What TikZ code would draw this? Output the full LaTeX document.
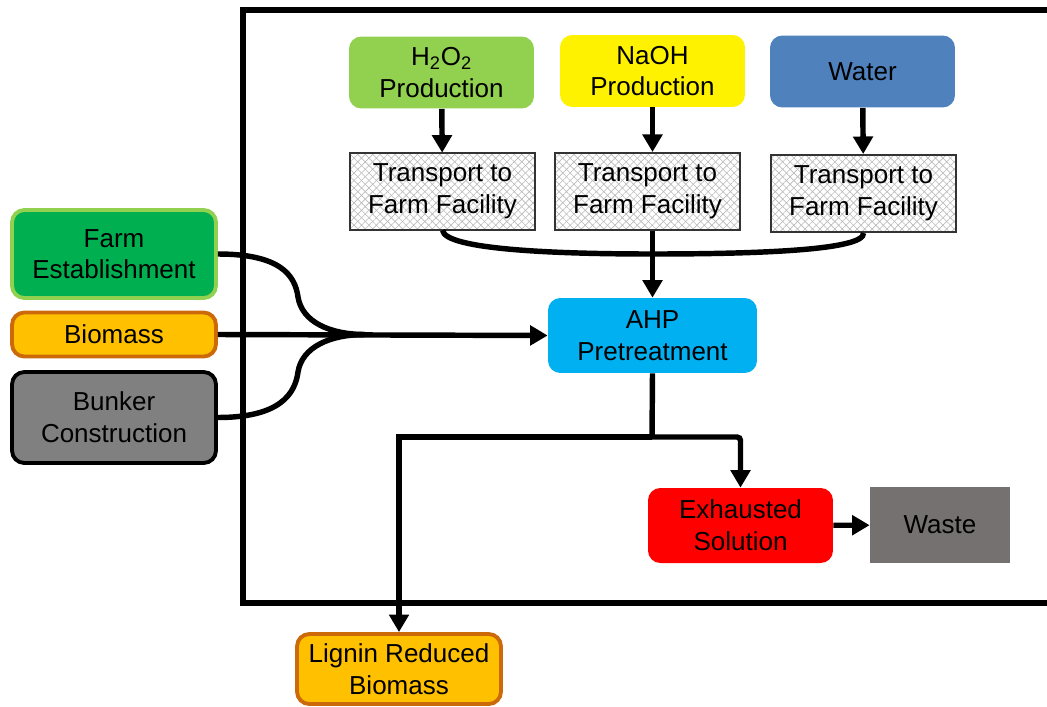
\documentclass[tikz,border=0pt]{standalone}
\usepackage{fontspec}
\setmainfont{Liberation Sans}
\usetikzlibrary{arrows.meta,patterns.meta}

\definecolor{prodgreen}{HTML}{92D050}
\definecolor{farmgreen}{HTML}{00B050}
\definecolor{waterblue}{HTML}{4F81BD}
\definecolor{ahpblue}{HTML}{00B0F0}
\definecolor{gold}{HTML}{FFC000}
\definecolor{rust}{HTML}{CC6A0A}
\definecolor{wastegray}{HTML}{767171}

\begin{document}
\begin{tikzpicture}[x=0.02cm,y=-0.02cm,
  txt/.style={font=\fontsize{14.8}{18}\selectfont,align=center,inner sep=0pt},
  proc/.style={txt,rounded corners=7pt,minimum width=3.7cm,minimum height=1.44cm},
  side/.style={txt,rounded corners=7pt,minimum width=4.08cm,line width=2.2pt},
  transport/.style={txt,draw=black!80,line width=1.1pt,minimum width=3.7cm,minimum height=1.54cm,
    pattern={Lines[angle=45,distance=3pt,line width=0.35pt]},pattern color=gray!55,
    preaction={pattern={Lines[angle=-45,distance=3pt,line width=0.35pt]},pattern color=gray!55}},
  flow/.style={line width=3.1pt,-{Triangle[length=10pt,width=11pt]}},
  link/.style={line width=3.1pt}]
\useasboundingbox (0,0) rectangle (1047,706);

% Facility boundary
\draw[line width=3.8pt] (1047,10) -- (243,10) -- (243,603) -- (1047,603);

% Chemical supply
\node[proc,fill=prodgreen] (h2o2) at (441.5,72.5) {H\textsubscript{2}O\textsubscript{2}\\Production};
\node[proc,fill=yellow] (naoh) at (652.5,71) {NaOH\\Production};
\node[proc,fill=waterblue] (water) at (862.5,71.5) {Water};

% Transport
\node[transport] (trA) at (442.5,191.5) {Transport to\\Farm Facility};
\node[transport] (trB) at (647.5,191.5) {Transport to\\Farm Facility};
\node[transport] (trC) at (863.5,193.5) {Transport to\\Farm Facility};

\draw[flow] (h2o2) -- (trA);
\draw[flow] (naoh.south) -- (naoh.south |- trB.north);
\draw[flow] (water) -- (trC);

% Pretreatment
\node[proc,fill=ahpblue,minimum width=4.18cm,minimum height=1.5cm] (ahp) at (652.5,335.5) {AHP\\Pretreatment};

\coordinate (join) at (652,254);
\draw[link] (trA.south) .. controls (445,250) and (560,254) .. (join)
  .. controls (760,254) and (865,250) .. (trC.south);
\draw[flow] (ahp.north |- trB.south) -- (ahp.north);

% Farm inputs
\node[side,fill=farmgreen,draw=prodgreen,minimum height=1.76cm] (farm) at (114,254) {Farm\\Establishment};
\node[side,fill=gold,draw=rust,minimum height=0.88cm] (biomass) at (114,334.5) {Biomass};
\node[side,fill=gray,draw=black,minimum height=1.82cm] (bunker) at (114,417.5) {Bunker\\Construction};

\coordinate (merge) at (365,334.5);
\draw[link] (farm.east) .. controls (280,254) and (295,275) .. (298,297)
  .. controls (302,322) and (330,334.5) .. (merge);
\draw[link] (bunker.east) .. controls (280,417.5) and (295,394) .. (298,372)
  .. controls (302,347) and (330,334.5) .. (merge);
\draw[flow] (biomass.east) -- (ahp.west);

% Outputs
\node[proc,fill=red,minimum height=1.5cm] (exhausted) at (740.5,525.5) {Exhausted\\Solution};
\node[txt,fill=wastegray,minimum width=2.8cm,minimum height=1.52cm] (waste) at (940,525) {Waste};
\node[side,fill=gold,draw=rust,minimum height=1.4cm] (lignin) at (399,669) {Lignin Reduced\\Biomass};

\coordinate (split) at (652,437);
\draw[link] (ahp.south) -- (split);
\draw[flow,rounded corners=2pt] (split) -| (exhausted.north);
\draw[flow] (split) -| (lignin.north);
\draw[flow] (exhausted) -- (waste);
\end{tikzpicture}
\end{document}
